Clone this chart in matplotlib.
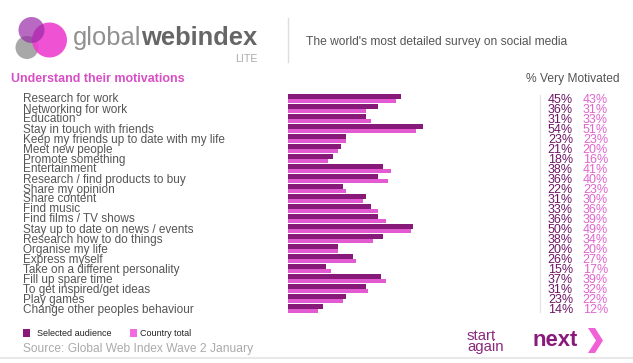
import matplotlib
matplotlib.use("Agg")
import matplotlib.pyplot as plt
from matplotlib.patches import Circle, Polygon, Rectangle

categories = [
    "Research for work", "Networking for work", "Education",
    "Stay in touch with friends", "Keep my friends up to date with my life",
    "Meet new people", "Promote something", "Entertainment",
    "Research / find products to buy", "Share my opinion", "Share content",
    "Find music", "Find films / TV shows", "Stay up to date on news / events",
    "Research how to do things", "Organise my life", "Express myself",
    "Take on a different personality", "Fill up spare time",
    "To get inspired/get ideas", "Play games", "Change other peoples behaviour",
]
selected = [45, 36, 31, 54, 23, 21, 18, 38, 36, 22, 31, 33, 36, 50, 38, 20, 26, 15, 37, 31, 23, 14]
country = [43, 31, 33, 51, 23, 20, 16, 41, 40, 23, 30, 36, 39, 49, 34, 20, 27, 17, 39, 32, 22, 12]

DARK = "#871a78"
PINK = "#e35bd0"
FONT = ["Liberation Sans", "DejaVu Sans"]
plt.rcParams["font.family"] = FONT

W, H = 633, 363
fig = plt.figure(figsize=(W / 100, H / 100), dpi=100)
fig.patch.set_facecolor("white")

def px(v):
    return v * 0.72

ax0 = fig.add_axes([0, 0, 1, 1])
ax0.set_xlim(0, W)
ax0.set_ylim(H, 0)
ax0.axis("off")

# logo circles
ax0.add_patch(Circle((27, 47.5), 11.5, color="#a8a8a8", lw=0, zorder=1))
ax0.add_patch(Circle((49.5, 40), 17.5, color="#ee3fcf", alpha=0.9, lw=0, zorder=2))
ax0.add_patch(Circle((31.5, 30), 13, color="#9a2aa8", alpha=0.7, lw=0, zorder=3))

t1 = ax0.text(73, 45, "global", fontsize=px(25.5), color="#909090", va="baseline", ha="left")
fig.canvas.draw()
bb = t1.get_window_extent()
ax0.text(73 + bb.width, 45, "webindex", fontsize=px(25.5), color="#666666",
         fontweight="bold", va="baseline", ha="left")
ax0.text(257, 62, "LITE", fontsize=px(10.5), color="#aaaaaa", va="baseline", ha="right")

ax0.plot([288, 288], [18, 62], color="#dddddd", lw=1)
ax0.text(306, 45, "The world's most detailed survey on social media",
         fontsize=px(12), color="#555555", va="baseline", ha="left")

ax0.text(11, 82, "Understand their motivations", fontsize=px(12.5),
         color="#d94fc6", fontweight="bold", va="baseline", ha="left")
ax0.text(619, 82, "% Very Motivated", fontsize=px(12), color="#555555",
         va="baseline", ha="right")

# row labels and values
for i, name in enumerate(categories):
    y = 102.5 + 10 * i
    ax0.text(23, y, name, fontsize=px(11.8), color="#555555", va="baseline", ha="left")
    ax0.text(573, y + 0.5, f"{selected[i]}%", fontsize=px(12.5), color="#6e1766",
             va="baseline", ha="right")
    ax0.text(608, y + 0.5, f"{country[i]}%", fontsize=px(12.5), color="#e066cf",
             va="baseline", ha="right")

ax0.plot([540, 540], [95, 312], color="#e6e6e6", lw=1)

# legend
ax0.add_patch(Rectangle((23, 329), 7, 8, color=DARK, lw=0))
ax0.text(37, 336.5, "Selected audience", fontsize=px(9), color="#222222", va="baseline")
ax0.add_patch(Rectangle((130, 329), 7, 8, color="#f06ae0", lw=0))
ax0.text(140, 336.5, "Country total", fontsize=px(9), color="#222222", va="baseline")
ax0.text(23, 352, "Source: Global Web Index Wave 2 January", fontsize=px(12),
         color="#aaaaaa", va="baseline")

# navigation
ax0.text(467, 340, "start", fontsize=px(15), color="#8a2a7e", va="baseline", ha="left")
ax0.text(467, 351, "again", fontsize=px(15), color="#8a2a7e", va="baseline", ha="left")
ax0.text(532, 346, "next", fontsize=px(22), color="#8a1a7a", fontweight="bold",
         va="baseline", ha="left")
ax0.add_patch(Polygon([(588, 328), (595, 328), (603, 340.5), (595, 353), (588, 353), (596, 340.5)],
                      closed=True, color="#f060d6", lw=0))
ax0.plot([0, W], [358, 358], color="#e8e8e8", lw=1.5)

# bars
top, bottom = 94, 314
ax = fig.add_axes([288 / W, (H - bottom) / H, 250 / W, (bottom - top) / H])
ax.set_xlim(0, 100)
ax.set_ylim(len(categories), 0)
ax.axis("off")
rows = list(range(len(categories)))
ax.barh([r + 0.25 for r in rows], selected, height=0.5, color=DARK, lw=0)
ax.barh([r + 0.72 for r in rows], country, height=0.44, color=PINK, lw=0)

fig.savefig("out.png", dpi=100, facecolor="white")
